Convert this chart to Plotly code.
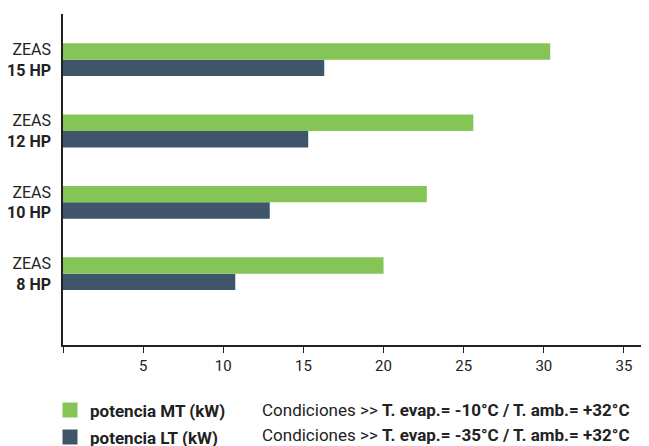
import plotly.graph_objects as go

categories = ["ZEAS<br><b>8 HP</b>", "ZEAS<br><b>10 HP</b>", "ZEAS<br><b>12 HP</b>", "ZEAS<br><b>15 HP</b>"]
potencia_mt = [20.0, 22.7, 25.6, 30.4]
potencia_lt = [10.75, 12.9, 15.3, 16.3]
x_tick_vals = [0, 5, 10, 15, 20, 25, 30, 35]
x_tick_text = ["", "5", "10", "15", "20", "25", "30", "35"]
series_names = ["<b>potencia MT (kW)</b>", "<b>potencia LT (kW)</b>"]
conditions = [
    "Condiciones >> <b>T. evap.= -10°C / T. amb.= +32°C</b>",
    "Condiciones >> <b>T. evap.= -35°C / T. amb.= +32°C</b>",
]

GREEN = "#85C557"
SLATE = "#3F566A"
TXT = "#222222"
FONT = "Roboto"

fig = go.Figure()
fig.add_trace(go.Bar(y=categories, x=potencia_lt, orientation="h",
                     marker=dict(color=SLATE, line_width=0), showlegend=False))
fig.add_trace(go.Bar(y=categories, x=potencia_mt, orientation="h",
                     marker=dict(color=GREEN, line_width=0), showlegend=False))

# legend entries
for name, col, grp in [(series_names[0], GREEN, "a"), (series_names[1], SLATE, "b")]:
    fig.add_trace(go.Scatter(x=[None], y=[None], mode="markers", name=name,
                             legendgroup=grp,
                             marker=dict(symbol="square", size=15, color=col)))

for i, txt in enumerate(conditions):
    fig.add_annotation(xref="paper", yref="paper", x=(260 - 63) / 585,
                       y=[-0.196, -0.272][i], xanchor="left", yanchor="middle",
                       text=txt, showarrow=False,
                       font=dict(family=FONT, size=17, color=TXT))

# page has an 8px body margin; figure sized to fit the 649x446 window
fig.update_layout(
    width=641, height=438,
    margin=dict(l=55, r=1, t=6, b=101, autoexpand=False),
    paper_bgcolor="white", plot_bgcolor="white",
    barmode="group", bargap=0.54, bargroupgap=0,
    font=dict(family=FONT, size=15, color=TXT),
    legend=dict(x=-0.0222, y=-0.143, xanchor="left", yanchor="top",
                traceorder="grouped", tracegroupgap=2,
                font=dict(family=FONT, size=17, color=TXT),
                bgcolor="rgba(0,0,0,0)"),
    xaxis=dict(range=[0, 36.5], tickvals=x_tick_vals, ticktext=x_tick_text,
               showline=True, linecolor="#222", linewidth=1.5,
               ticks="outside", ticklen=6, tickcolor="#222", tickwidth=1.2,
               showgrid=False, zeroline=False, automargin=False,
               ticklabelstandoff=0,
               tickfont=dict(family=FONT, size=15, color=TXT)),
    yaxis=dict(range=[-1, 3.64], showline=True, linecolor="#222", linewidth=1.5,
               showgrid=False, zeroline=False, ticks="", automargin=False,
               ticklabelstandoff=7,
               tickfont=dict(family=FONT, size=16, color=TXT)),
)

fig.write_html("out.html")
